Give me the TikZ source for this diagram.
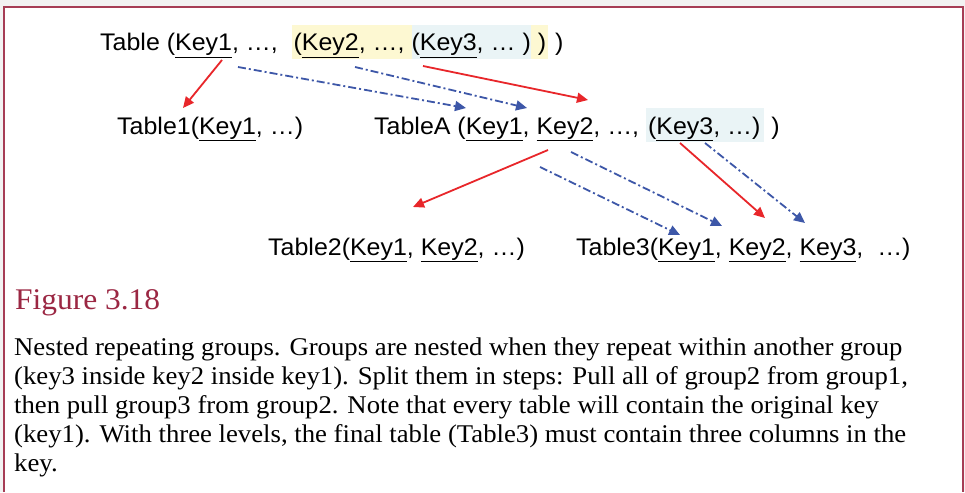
\documentclass[tikz,border=0pt]{standalone}
\usepackage{fontspec}
\setmainfont[FakeStretch=1.048]{Liberation Serif}
\newfontfamily\arialfont[FakeStretch=1.04]{Liberation Sans}
\usetikzlibrary{arrows.meta}
\definecolor{framecol}{HTML}{A63D55}
\definecolor{figcol}{HTML}{9B2743}
\definecolor{hlyellow}{HTML}{FDF8D2}
\definecolor{hlblue}{HTML}{EAF4F6}
\definecolor{redarrow}{HTML}{E8262A}
\definecolor{bluearrow}{HTML}{3D57A8}
\definecolor{bggray}{HTML}{F2F2F2}
\newcommand\keyul[1]{\underline{#1}}
\newcommand\hlbox[2]{{\setlength\fboxsep{0pt}\colorbox{#1}{\rule[-8pt]{0pt}{34pt}#2}}}
\tikzset{
  tabletext/.style={inner sep=0pt, anchor=base west, font=\arialfont\fontsize{24}{28}\selectfont},
  figtitle/.style={inner sep=0pt, anchor=base west, text=figcol, font=\fontsize{30}{34}\selectfont},
  paraline/.style={inner sep=0pt, anchor=base west, font=\fontsize{25.5}{29}\selectfont},
  redarr/.style={draw=redarrow, line width=1.8pt, -{Triangle[length=11pt,width=10pt]}},
  bluearr/.style={draw=bluearrow, line width=1.8pt, dash pattern=on 8pt off 3pt on 2pt off 3pt, -{Triangle[length=11pt,width=10pt]}}
}
\begin{document}
\begin{tikzpicture}[x=1pt,y=-1pt]
\useasboundingbox (0,0) rectangle (965,492);
\fill[bggray] (0,0) rectangle (965,492);
\fill[white] (4,7) rectangle (963,492);
\draw[framecol, line width=1.3pt] (4,492) -- (4,7) -- (963,7) -- (963,492);

\node[tabletext] (t0) at (100,51) {Table (\keyul{Key1}, …,\ \ \hlbox{hlyellow}{\kern2pt(\keyul{Key2}, …, \hlbox{hlblue}{(\keyul{Key3}, … )} )\kern2pt} )};
\node[tabletext] (t1) at (117,134) {Table1(\keyul{Key1}, …)};
\node[tabletext] (tA) at (374,134) {TableA (\keyul{Key1}, \keyul{Key2}, …, \hlbox{hlblue}{\kern2pt(\keyul{Key3}, …)\kern4pt} )};
\node[tabletext] (t2) at (268,255) {Table2(\keyul{Key1}, \keyul{Key2}, …)};
\node[tabletext] (t3) at (576,255) {Table3(\keyul{Key1}, \keyul{Key2}, \keyul{Key3},\ \ …)};

\node[figtitle] (fig) at (15,309) {Figure 3.18};
\node[paraline] (p1) at (14,355) {Nested repeating groups. Groups are nested when they repeat within another group};
\node[paraline] (p2) at (14,384) {(key3 inside key2 inside key1). Split them in steps: Pull all of group2 from group1,};
\node[paraline] (p3) at (14,413) {then pull group3 from group2. Note that every table will contain the original key};
\node[paraline] (p4) at (14,442) {(key1). With three levels, the final table (Table3) must contain three columns in the};
\node[paraline] (p5) at (14,471) {key.};

% arrow end points
\coordinate (a1s) at (222,60);  \coordinate (a1e) at (183,108);
\coordinate (a2s) at (423,66);  \coordinate (a2e) at (588,100);
\coordinate (a3s) at (548,150); \coordinate (a3e) at (413,207);
\coordinate (a4s) at (680,143); \coordinate (a4e) at (765,218);
\coordinate (b1s) at (238,67);  \coordinate (b1e) at (466,108);
\coordinate (b2s) at (355,67);  \coordinate (b2e) at (527,108);
\coordinate (b3s) at (571,152); \coordinate (b3e) at (722,226);
\coordinate (b4s) at (540,167); \coordinate (b4e) at (680,235);
\coordinate (b5s) at (705,143); \coordinate (b5e) at (805,223);

\draw[redarr] (a1s) -- (a1e);
\draw[redarr] (a2s) -- (a2e);
\draw[redarr] (a3s) -- (a3e);
\draw[redarr] (a4s) -- (a4e);
\draw[bluearr] (b1s) -- (b1e);
\draw[bluearr] (b2s) -- (b2e);
\draw[bluearr] (b3s) -- (b3e);
\draw[bluearr] (b4s) -- (b4e);
\draw[bluearr] (b5s) -- (b5e);
\end{tikzpicture}
\end{document}
